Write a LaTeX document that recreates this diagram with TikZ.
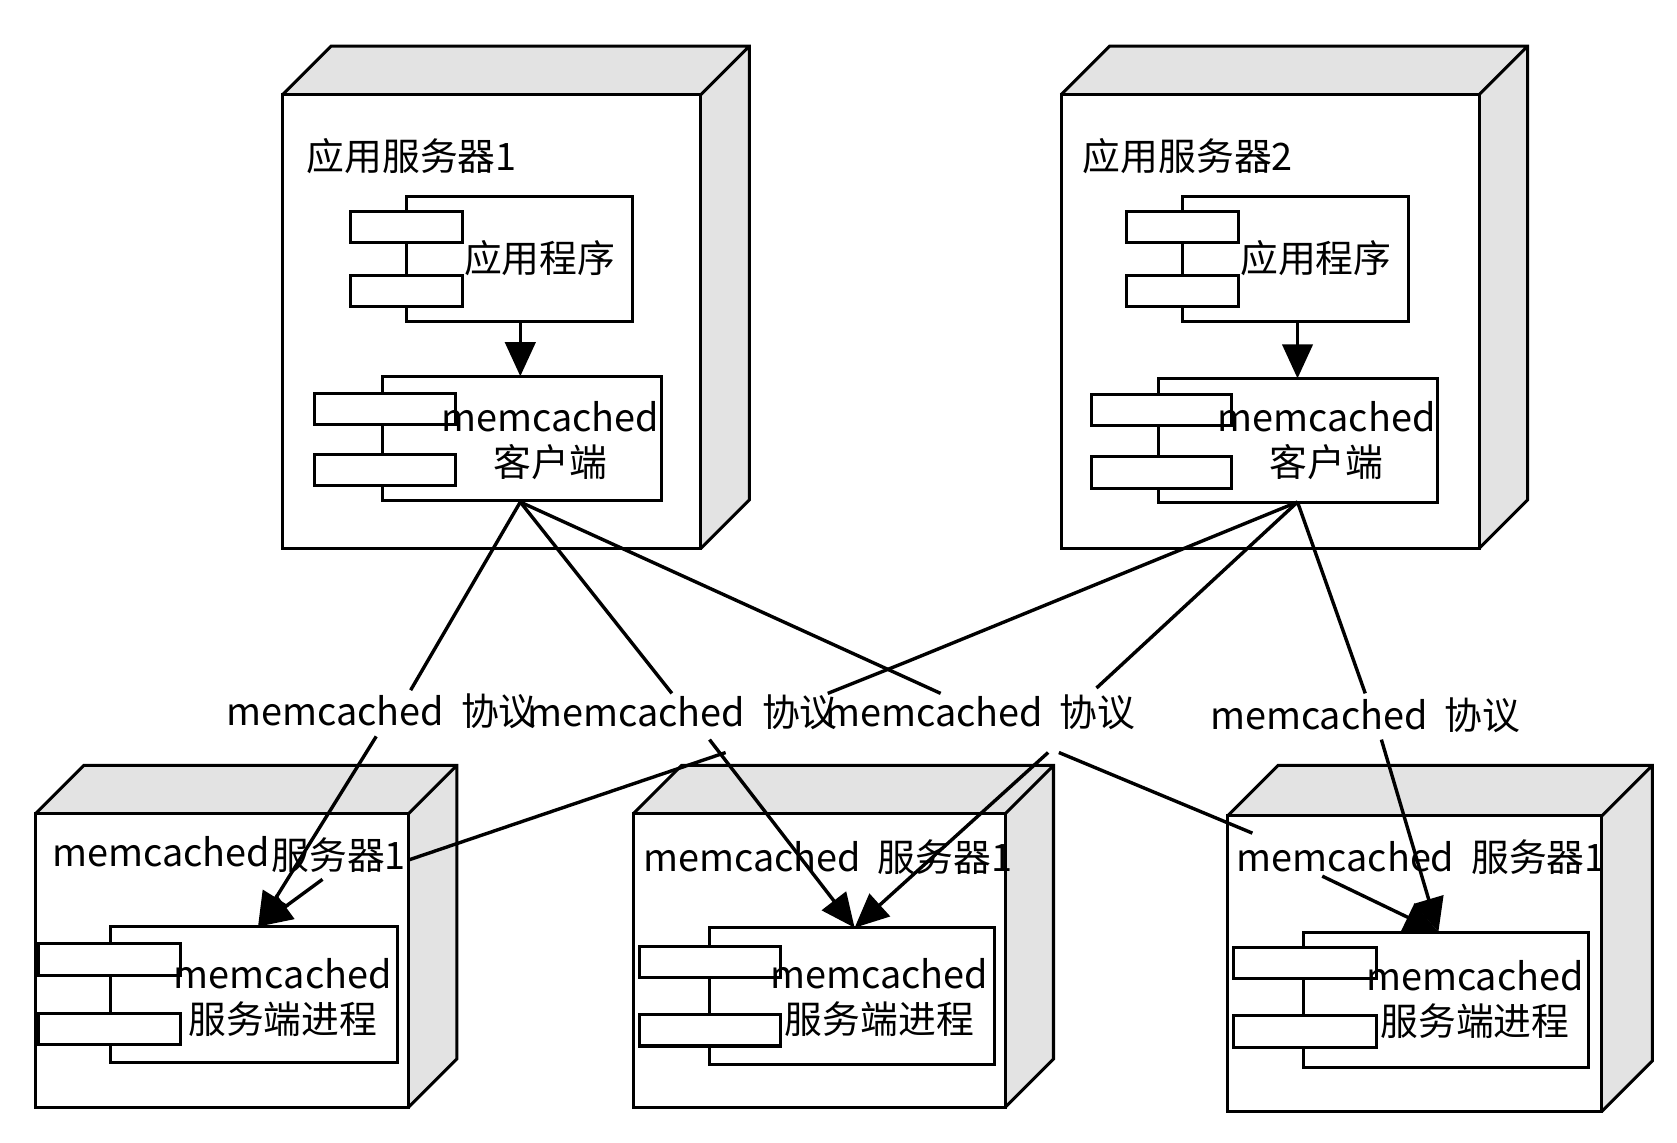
\documentclass[tikz,border=0pt]{standalone}
\usepackage{fontspec}
\setmainfont{Noto Sans CJK SC}
\usetikzlibrary{arrows.meta}
\begin{document}
\begin{tikzpicture}[x=0.01cm,y=-0.01cm,
  txt/.style={font=\fontsize{10}{12}\selectfont,inner sep=1pt},
  face/.style={draw,line width=0.8pt,fill=gray!22},
  box/.style={draw,line width=0.8pt,fill=white},
  link/.style={line width=0.9pt},
  arr/.style={line width=0.9pt,-{Triangle[length=9pt,width=8pt]}}]
\useasboundingbox (0,0) rectangle (1560,1063);
% 3D node boxes
\newcommand\nbox[5]{%
  \fill[gray!22] (#1,#2)--(#1+#5,#2-#5)--(#3+#5,#2-#5)--(#3+#5,#4-#5)--(#3,#4)--cycle;
  \draw[line width=0.8pt] (#1,#2)--(#1+#5,#2-#5)--(#3+#5,#2-#5)--(#3+#5,#4-#5)--(#3,#4) (#3,#2)--(#3+#5,#2-#5);
  \draw[box] (#1,#2) rectangle (#3,#4);}
\newcommand\cmpt[8]{%
  \draw[box] (#1,#2) rectangle (#3,#4);
  \draw[box] (#5,#7) rectangle (#6,#7+29);
  \draw[box] (#5,#8) rectangle (#6,#8+29);}
\nbox{263}{88}{652}{510}{45}
\nbox{987}{88}{1376}{510}{45}
\nbox{33}{757}{380}{1030}{45}
\nbox{589}{757}{935}{1030}{45}
\nbox{1142}{759}{1490}{1034}{47}
% app server 1
\node[txt] (t1) at (383,145) {应用服务器1};
\cmpt{378}{183}{588}{299}{326}{430}{197}{256}
\node[txt] (app1) at (502,240) {应用程序};
\cmpt{356}{350}{615}{466}{293}{424}{366}{423}
\node[txt,align=center] (cl1) at (512,410) {memcached\\客户端};
\coordinate (a1) at (484,299); \coordinate (b1) at (484,350);
\draw[arr] (a1)--(b1);
% app server 2
\node[txt] (t2) at (1105,145) {应用服务器2};
\cmpt{1100}{183}{1310}{299}{1048}{1152}{197}{256}
\node[txt] (app2) at (1224,240) {应用程序};
\cmpt{1078}{352}{1337}{467}{1015}{1146}{367}{425}
\node[txt,align=center] (cl2) at (1234,410) {memcached\\客户端};
\coordinate (a2) at (1207,299); \coordinate (b2) at (1207,352);
\draw[arr] (a2)--(b2);
% bottom servers
\node[txt] (s1a) at (150,792) {memcached};
\node[txt] (s1b) at (315,795) {服务器1};
\cmpt{103}{862}{370}{988}{36}{168}{878}{943}
\node[txt,align=center] (p1) at (263,928) {memcached\\服务端进程};
\node[txt] (s2) at (770,797) {memcached\ \ 服务器1};
\cmpt{660}{863}{925}{990}{595}{726}{880}{944}
\node[txt,align=center] (p2) at (818,928) {memcached\\服务端进程};
\node[txt] (s3) at (1322,797) {memcached\ \ 服务器1};
\cmpt{1213}{867}{1478}{993}{1147}{1280}{881}{945}
\node[txt,align=center] (p3) at (1372,930) {memcached\\服务端进程};
% protocol labels
\node[txt] (L1) at (355,662) {memcached\ \ 协议};
\node[txt] (L2) at (635,663) {memcached\ \ 协议};
\node[txt] (L3) at (912,663) {memcached\ \ 协议};
\node[txt] (L4) at (1270,665) {memcached\ \ 协议};
% connectors
\coordinate (c1) at (484,467); \coordinate (c2) at (1207,467);
\coordinate (e1) at (240,862); \coordinate (e2) at (795,863); \coordinate (e3) at (1338,867);
\coordinate (m1) at (382,642); \coordinate (m2) at (625,645); \coordinate (m3) at (875,645);
\coordinate (m4) at (845,615); \coordinate (m5) at (1020,640); \coordinate (m6) at (1270,645);
\coordinate (n1) at (350,685); \coordinate (n2) at (660,688); \coordinate (n3) at (985,700);
\coordinate (n4) at (675,700); \coordinate (n5) at (975,700); \coordinate (n6) at (1285,688);
\coordinate (k4) at (380,800); \coordinate (k3) at (1165,775);
\draw[link] (c1)--(m1); \draw[link] (c1)--(m2); \draw[link] (c1)--(m3);
\draw[link] (c2)--(m4)--(770,645); \draw[link] (c2)--(m5); \draw[link] (c2)--(m6);
\draw[arr] (n1)--(e1);
\draw[arr] (n2)--(e2);
\draw[link] (n3)--(k3); \draw[arr] (1230,815)--(e3);
\draw[link] (n4)--(k4); \draw[arr] (300,818)--(e1);
\draw[arr] (n5)--(e2);
\draw[arr] (n6)--(e3);
\end{tikzpicture}
\end{document}
